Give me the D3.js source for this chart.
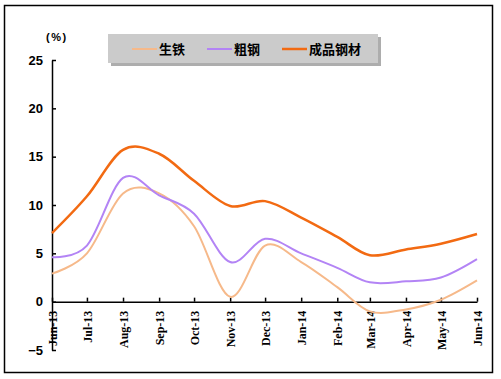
<!DOCTYPE html>
<html><head><meta charset="utf-8">
<script src="https://cdn.jsdelivr.net/npm/d3@7"></script>
<style>body{margin:0;background:#fff}svg{display:block}</style>
</head><body>
<svg id="c" width="501" height="379"></svg>
<script>
const months = ["2013-06","2013-07","2013-08","2013-09","2013-10","2013-11","2013-12","2014-01","2014-02","2014-03","2014-04","2014-05","2014-06"];
const pigIron  = [2.9, 5.0, 11.2, 11.2, 7.8, 0.5, 5.8, 4.1, 1.5, -1.0, -0.8, 0.2, 2.2];
const crudeSteel = [4.6, 5.8, 12.8, 11.0, 9.1, 4.1, 6.5, 5.0, 3.5, 2.0, 2.1, 2.5, 4.4];
const finishedSteel = [7.1, 10.9, 15.7, 15.3, 12.5, 9.9, 10.4, 8.7, 6.7, 4.8, 5.4, 6.0, 7.0];
const seriesNames = ["生铁","粗钢","成品钢材"];
const seriesColors = ["#f6b98a","#b384f5","#f26a12"];
const yTicks = [-5,0,5,10,15,20,25];
const fmt = d3.timeFormat("%b-%y");

const svg = d3.select("#c");
svg.append("rect").attr("x",4.5).attr("y",5.5).attr("width",488).attr("height",367)
  .attr("fill","#fff").attr("stroke","#000").attr("stroke-width",1.5);

const parse = d3.timeParse("%Y-%m");
const dates = months.map(parse);
const x = d3.scaleTime().domain([dates[0], dates[dates.length-1]]).range([52, 477]);
const y = d3.scaleLinear().domain([-5, 25]).range([350, 60]);

// y axis
const ya = svg.append("g").attr("transform","translate(52,0)")
  .call(d3.axisLeft(y).tickValues(yTicks).tickSizeInner(-4).tickSizeOuter(0).tickPadding(9));
ya.select(".domain").attr("stroke","#000").attr("stroke-width",1.5);
ya.selectAll(".tick line").attr("stroke","#000").attr("stroke-width",1.5);
ya.selectAll("text").attr("font-family","Liberation Sans, Arial, sans-serif").attr("font-weight","bold")
  .attr("font-size",13).attr("fill","#000");

// x axis
const xa = svg.append("g").attr("transform",`translate(0,${y(0)})`)
  .call(d3.axisBottom(x).tickValues(dates).tickFormat(fmt).tickSizeInner(-4).tickSizeOuter(0));
xa.select(".domain").attr("stroke","#000").attr("stroke-width",1.5);
xa.selectAll(".tick line").attr("stroke","#000").attr("stroke-width",1.5);
xa.selectAll("text").attr("font-family","Liberation Serif, Times New Roman, serif").attr("font-weight","bold")
  .attr("font-size",12).attr("fill","#000")
  .attr("transform","rotate(-90)").attr("text-anchor","end").attr("dy","0.35em").attr("x",-9).attr("y",0);

svg.append("text").attr("x",46).attr("y",41).text("(%)")
  .attr("font-family","Liberation Sans, Arial, sans-serif").attr("font-weight","bold").attr("font-size",11).attr("letter-spacing",1.5);

const line = d3.line().x((d,i)=>x(dates[i])).y(d=>y(d)).curve(d3.curveCardinal.tension(0));
const allSeries = [pigIron, crudeSteel, finishedSteel];
const widths = [2, 2, 2.5];
allSeries.forEach((s,k)=>{
  svg.append("path").attr("d",line(s)).attr("fill","none").attr("stroke",seriesColors[k]).attr("stroke-width",widths[k]);
});

// legend
const lg = svg.append("g");
lg.append("rect").attr("x",111).attr("y",37).attr("width",270).attr("height",29).attr("fill","#8a8a8a").attr("opacity",0.7);
lg.append("rect").attr("x",108).attr("y",34).attr("width",270).attr("height",29).attr("fill","#cbcbcb");
const lx = [132, 207, 282];
seriesNames.forEach((n,k)=>{
  lg.append("line").attr("x1",lx[k]).attr("x2",lx[k]+25).attr("y1",49).attr("y2",49)
    .attr("stroke",seriesColors[k]).attr("stroke-width",widths[k]);
  lg.append("text").attr("x",lx[k]+27).attr("y",54).text(n)
    .attr("font-family","Noto Sans CJK SC, sans-serif").attr("font-weight","bold").attr("font-size",13).attr("fill","#000");
});
</script>
</body></html>
